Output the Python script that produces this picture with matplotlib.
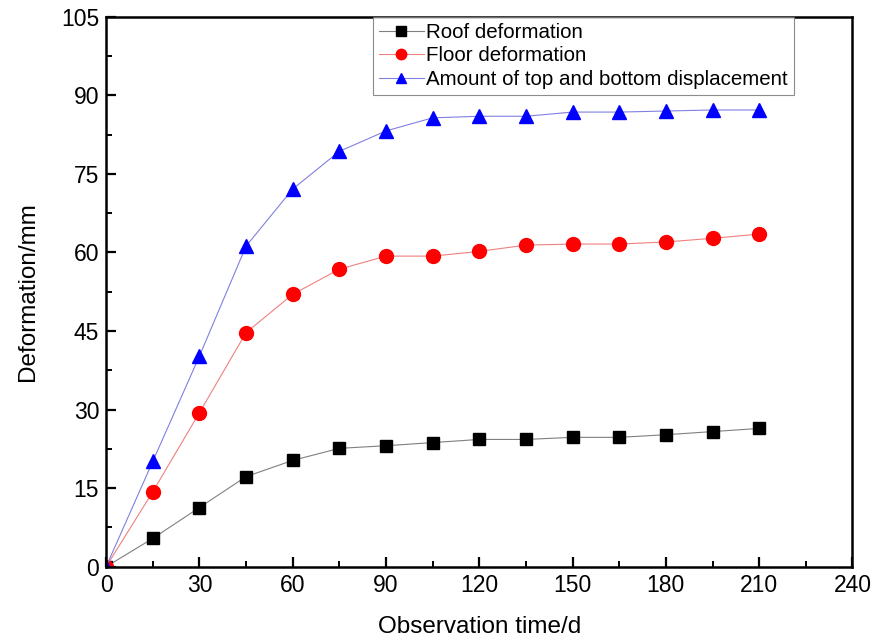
import matplotlib
matplotlib.use("Agg")
import matplotlib.pyplot as plt
from matplotlib.ticker import MultipleLocator

plt.rcParams['font.family'] = ['Liberation Sans', 'DejaVu Sans']

# observation days and measured deformation (mm)
days = [0, 15, 30, 45, 60, 75, 90, 105, 120, 135, 150, 165, 180, 195, 210]
roof = [0, 5.4, 11.3, 17.2, 20.3, 22.6, 23.1, 23.7, 24.3, 24.3, 24.7, 24.7, 25.2, 25.8, 26.4]
floor = [0, 14.3, 29.4, 44.7, 52.0, 56.8, 59.3, 59.3, 60.2, 61.4, 61.6, 61.6, 62.0, 62.7, 63.5]
total = [0, 20.1, 40.2, 61.2, 72.1, 79.3, 83.2, 85.7, 86.0, 86.0, 86.8, 86.8, 87.0, 87.2, 87.2]

fig = plt.figure(figsize=(8.77, 6.44), dpi=100)
ax = fig.add_axes([0.121, 0.12, 0.851, 0.854])

ax.plot(days, roof, color='#808080', lw=0.8, marker='s', ms=9,
        mfc='black', mec='black', label='Roof deformation')
ax.plot(days, floor, color='#f08080', lw=0.8, marker='o', ms=10,
        mfc='red', mec='red', label='Floor deformation')
ax.plot(days, total, color='#8080e0', lw=0.8, marker='^', ms=10,
        mfc='blue', mec='blue', label='Amount of top and bottom displacement')

ax.set_xlim(0, 240)
ax.set_ylim(0, 105)
ax.xaxis.set_major_locator(MultipleLocator(30))
ax.xaxis.set_minor_locator(MultipleLocator(15))
ax.yaxis.set_major_locator(MultipleLocator(15))
ax.yaxis.set_minor_locator(MultipleLocator(7.5))
ax.tick_params(which='major', direction='in', length=7, width=1.6, labelsize=16.5, pad=5)
ax.tick_params(which='minor', direction='in', length=4, width=1.4)
for s in ax.spines.values():
    s.set_linewidth(1.8)

ax.set_xlabel('Observation time/d', fontsize=17.5, labelpad=14)
ax.set_ylabel('Deformation/mm', fontsize=17.5, labelpad=16)

leg = ax.legend(loc='upper left', bbox_to_anchor=(0.357, 1.0), fontsize=14.8,
                frameon=True, fancybox=False, borderpad=0.3, labelspacing=0.22,
                handlelength=2.2, handletextpad=0.1, borderaxespad=0,
                markerscale=0.75)
leg.get_frame().set_edgecolor('#707070')
leg.get_frame().set_linewidth(0.8)

fig.savefig('out.png', dpi=100)
